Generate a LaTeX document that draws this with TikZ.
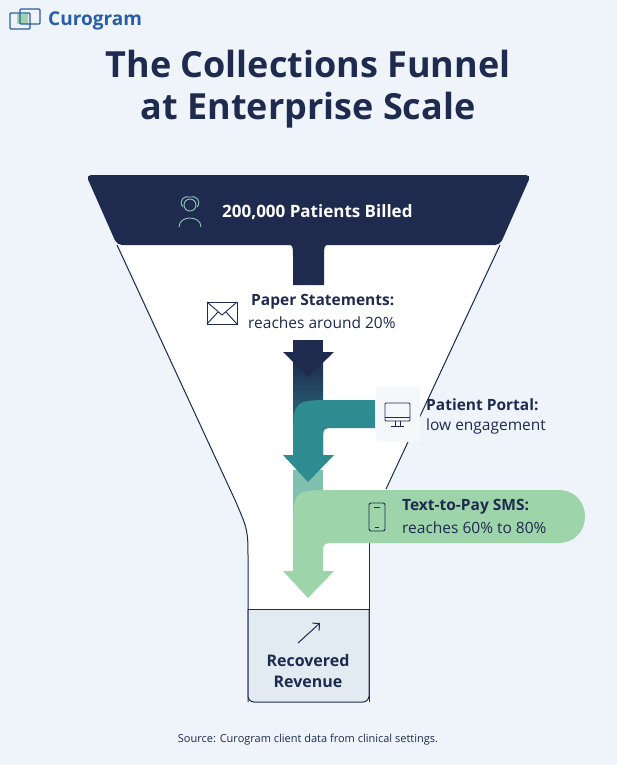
\documentclass[tikz,border=0pt]{standalone}
\usepackage{fontspec}
\setmainfont{Open Sans}
\usetikzlibrary{arrows.meta}
\definecolor{navy}{HTML}{1E2B4F}
\definecolor{teal}{HTML}{2E8B8F}
\definecolor{paleteal}{HTML}{7FC1AE}
\definecolor{mint}{HTML}{9ED4A9}
\definecolor{bgblue}{HTML}{EEF4F9}
\definecolor{boxfill}{HTML}{E2EBF1}
\definecolor{brand}{HTML}{2A5DA8}
\definecolor{iconline}{HTML}{8FC7B8}
\begin{document}
\begin{tikzpicture}[
    x=1pt, y=-1pt,
    every node/.style={inner sep=0pt, text=navy},
    head/.style={font=\fontsize{15.5}{18}\selectfont\bfseries, anchor=west},
    sub/.style={font=\fontsize{15.5}{18}\selectfont, anchor=west},
    icon/.style={draw=navy, line width=0.9pt}
]
% background
\fill[bgblue] (0,0) rectangle (617,765);
\useasboundingbox (0,0) rectangle (617,765);

% logo and title
\draw[brand, line width=1.4pt, rounded corners=1pt] (10,13) rectangle (30,29);
\fill[mint] (17,14) rectangle (28,24);
\draw[brand, line width=1.4pt, rounded corners=1pt] (20,9) rectangle (40,24);
\node[anchor=west, text=brand, font=\fontsize{19}{22}\selectfont\bfseries] (brandname) at (48,21) {Curogram};
\node[font=\fontsize{36}{42}\selectfont\bfseries, align=center] (title) at (308,89) {The Collections Funnel\\at Enterprise Scale};

% funnel body
\fill[white] (117,240) -- (235,500) .. controls (248,530) .. (248,560) -- (248,702)
    -- (369,702) -- (369,545) -- (386,489) -- (500,240) -- cycle;
\draw[navy, line width=1pt] (117,245) -- (235,500) .. controls (248,530) .. (248,560) -- (248,702);
\draw[navy, line width=1pt] (500,245) -- (386,489);
\draw[navy, line width=1pt] (369,540) -- (369,702);
\draw[navy, line width=1pt, fill=boxfill, rounded corners=6pt] (248,609) -- (248,702) -- (369,702) -- (369,609);
\draw[navy, line width=1pt] (248,609) -- (369,609);

% top band
\fill[navy, rounded corners=5pt] (86,175) -- (531,175) -- (500,245) -- (117,245) -- cycle;
\fill[navy] (280,244) .. controls (293,244) .. (293,257) -- (293,285) -- (324,285) -- (324,257) .. controls (324,244) .. (337,244) -- cycle;

% person icon
\draw[iconline, line width=0.9pt] (190,205) circle (6);
\draw[iconline, line width=0.9pt] (179,227) .. controls (179,215) and (201,215) .. (201,227);
\draw[iconline, line width=0.9pt] (183,207) .. controls (178,201) and (184,195) .. (190,197);
\draw[iconline, line width=0.9pt] (197,207) .. controls (202,201) and (196,195) .. (190,197);
\node[anchor=west, text=white, font=\fontsize{17}{20}\selectfont\bfseries] (billed) at (222,212) {200,000 Patients Billed};

% paper statements
\draw[icon] (207,302) rectangle (237,324);
\draw[icon] (207,302) -- (222,315) -- (237,302);
\draw[icon] (207,324) -- (218,312);
\draw[icon] (237,324) -- (226,312);
\node[head] (paper) at (251,302) {Paper Statements:};
\node[sub] (paperrate) at (248,323) {reaches around 20\%};

% arrow flow
\shade[top color=navy, bottom color=teal] (293,360) rectangle (323,455);
\fill[navy] (293,340) rectangle (323,353);
\fill[navy] (283,352) -- (334,352) -- (308,377) -- cycle;
\fill[paleteal] (293,470) rectangle (323,560);
\fill[teal] (375,400) -- (335,400) .. controls (293,400) .. (293,442) -- (293,455)
    -- (323,455) -- (323,441) .. controls (323,428) .. (336,428) -- (375,428) -- cycle;
\fill[teal] (283,455) -- (334,455) -- (308,482) -- cycle;
\fill[mint] (558,490) -- (335,490) .. controls (293,490) .. (293,532) -- (293,571)
    -- (323,571) -- (323,556) .. controls (323,543) .. (336,543) -- (558,543)
    .. controls (594,543) and (594,490) .. (558,490) -- cycle;
\fill[mint] (283,571) -- (334,571) -- (308,598) -- cycle;

% patient portal
\fill[bgblue!60!white, rounded corners=4pt] (376,386) rectangle (420,442);
\draw[icon, rounded corners=1pt] (385,403) rectangle (410,421);
\draw[icon] (385,417) -- (410,417);
\draw[icon] (395,421) -- (395,426) (400,421) -- (400,426) (391,426) -- (404,426);
\node[head] (portal) at (426,405) {Patient Portal:};
\node[sub] (portalrate) at (426,426) {low engagement};

% text to pay
\draw[icon, rounded corners=2pt] (369,503) rectangle (385,531);
\draw[icon] (374,507) -- (380,507) (375,527) -- (379,527);
\node[head] (sms) at (402,507) {Text-to-Pay SMS:};
\node[sub] (smsrate) at (402,528) {reaches 60\% to 80\%};

% recovered revenue
\coordinate (tipfrom) at (298,643);
\coordinate (tipto) at (320,623);
\draw[navy, line width=1pt, -{Straight Barb[length=5pt]}] (tipfrom) -- (tipto);
\node[font=\fontsize{16}{21}\selectfont\bfseries, align=center] (revenue) at (308,671) {Recovered\\Revenue};

% source
\node[font=\fontsize{11}{13}\selectfont] (source) at (308,740) {Source: Curogram client data from clinical settings.};
\end{tikzpicture}
\end{document}
